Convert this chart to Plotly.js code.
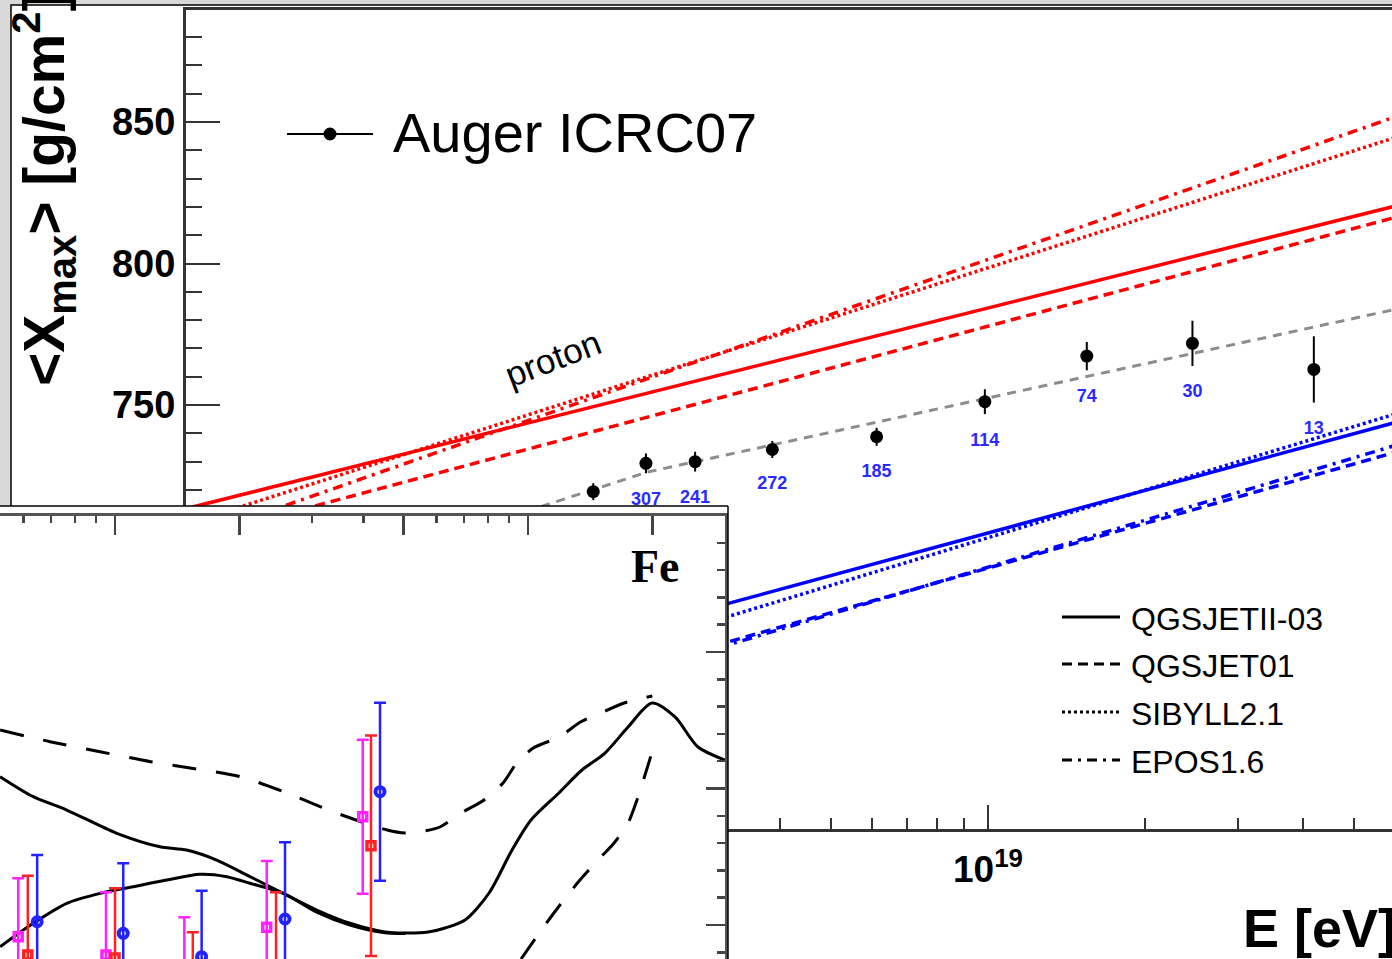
<!DOCTYPE html>
<html><head><meta charset="utf-8">
<script src="https://cdn.plot.ly/plotly-3.0.1.min.js"></script>
<style>html,body{margin:0;padding:0;background:#d9d9d9;overflow:hidden}#chart{width:1392px;height:959px}</style>
</head><body><div id="chart"></div>
<script>
// ---------- main chart: <Xmax> vs E ----------
const augerE      = [1.759e18, 2.218e18, 2.754e18, 3.869e18, 6.124e18, 9.863e18, 1.545e19, 2.460e19, 4.198e19];
const augerXmax   = [719.4, 729.4, 730.0, 734.3, 738.8, 751.2, 767.3, 771.8, 762.6];
const augerErr    = [3.0, 3.5, 3.5, 3.0, 3.2, 4.4, 5.0, 8.0, 11.7];
const augerEvents = ["", "307", "241", "272", "185", "114", "74", "30", "13"];

const fitE    = [1e18, 2.23e18, 6e19];
const fitXmax = [705.4, 726.3, 783.8];

const modelE = [3e17, 6e19];
const modelNames = ["QGSJETII-03", "QGSJET01", "SIBYLL2.1", "EPOS1.6"];
const protonXmax = {
  "QGSJETII-03": [713.9, 820.3],
  "QGSJET01":    [702.7, 816.3],
  "SIBYLL2.1":   [708.5, 844.5],
  "EPOS1.6":     [702.9, 851.8]
};
const ironXmax = {
  "QGSJETII-03": [628.5, 743.8],
  "QGSJET01":    [612.4, 733.3],
  "SIBYLL2.1":   [617.7, 746.8],
  "EPOS1.6":     [608.6, 735.7]
};
const xMajorTicks = [1e18, 1e19];
const xMajorText  = ["10<sup>18</sup>", "10<sup>19</sup>"];
const xMinorTicks = [4e17,5e17,6e17,7e17,8e17,9e17,2e18,3e18,4e18,5e18,6e18,7e18,8e18,9e18,2e19,3e19,4e19,5e19];
const yMajorTicks = [650, 700, 750, 800, 850];

// ---------- inset (Fe) ----------
const insetDashA_x = [0.527,0.696,0.920,1.22,1.52,2.01,2.61,3.37,4.56,5.04,5.48,6.12,6.88,7.83,8.70,9.40,10.3,11.9,13.4,15.0,17.1,20.0];
const insetDashA_y = [48.57,46.86,45.39,43.93,43.00,41.73,39.34,36.60,33.92,33.48,33.67,34.36,36.41,38.32,40.81,43.74,45.93,47.55,49.74,51.06,52.53,53.56];
const insetDashB_x = [9.62,10.69,11.95,13.36,14.94,16.16,17.47,18.36,19.20,19.97];
const insetDashB_y = [15.02,18.97,22.93,26.59,29.82,32.01,34.95,38.32,41.98,45.35];
const insetSolidC_x = [0.527,0.634,0.764,1.01,1.285,1.491,1.763,2.123,2.556,3.079,3.707,4.463,5.04,5.73,6.30,7.04,8.05,9.15,10.17,11.88,13.51,15.36,17.47,19.97,22.70,25.80,29.99];
const insetSolidC_y = [41.73,38.80,36.85,33.44,31.47,30.99,29.52,27.08,24.64,22.20,20.25,19.02,18.83,18.97,19.56,20.73,24.69,30.99,35.38,39.34,42.71,45.20,49.01,52.53,50.48,46.08,44.18];
const insetSolidD_x = [0.527,0.634,0.764,0.920,1.107,1.334,1.606,1.864,2.123,2.556,3.079,3.707,4.463,5.04];
const insetSolidD_y = [16.82,20.25,23.18,24.64,25.61,26.59,27.43,27.08,26.11,24.64,21.90,20.00,18.90,18.75];

const magE = [0.583, 0.951, 1.472, 2.330, 3.979];
const magV = [18.29, 15.60, 12.67, 19.66, 35.87];
const magErr = [8.56, 9.19, 8.45, 9.71, 11.28];
const redE = [0.615, 1.000, 1.543, 2.454, 4.167];
const redV = [15.60, 15.16, 10.48, 14.14, 31.62];
const redErr = [11.62, 10.21, 8.45, 10.65, 16.16];
const bluE = [0.648, 1.047, 1.621, 2.580, 4.382];
const bluV = [20.48, 18.78, 15.36, 20.88, 39.53];
const bluErr = [9.77, 10.26, 9.67, 11.24, 13.04];

// ---------- styling ----------
const W = 1392, H = 959;
const PX = x => x / W;
const PY = y => 1 - y / H;
const FONT = "Liberation Sans, Arial, Helvetica, sans-serif";
const dashes = {"QGSJETII-03": "solid", "QGSJET01": "10px,6px", "SIBYLL2.1": "3px,3px", "EPOS1.6": "10px,6px,3px,6px"};

const traces = [];
modelNames.forEach(n => {
  traces.push({type:'scatter', mode:'lines', x:modelE, y:protonXmax[n], xaxis:'x', yaxis:'y',
    line:{color:'#ff0000', width:3.5, dash:dashes[n]}, hoverinfo:'skip'});
});
modelNames.forEach(n => {
  traces.push({type:'scatter', mode:'lines', x:modelE, y:ironXmax[n], xaxis:'x', yaxis:'y',
    line:{color:'#0000ff', width:3.5, dash:dashes[n]}, hoverinfo:'skip'});
});
traces.push({type:'scatter', mode:'lines', x:fitE, y:fitXmax, xaxis:'x', yaxis:'y',
  line:{color:'#8c8c8c', width:3, dash:'9px,7px'}, hoverinfo:'skip'});
traces.push({type:'scatter', mode:'markers', x:augerE, y:augerXmax, xaxis:'x', yaxis:'y',
  marker:{color:'#000', size:13},
  error_y:{type:'data', array:augerErr, color:'#000', thickness:2, width:0}, hoverinfo:'skip'});
traces.push({type:'scatter', mode:'text', x:augerE, y:augerXmax.map((v,i)=>v-augerErr[i]-9.5),
  text:augerEvents, textposition:'middle center', xaxis:'x', yaxis:'y',
  textfont:{family:FONT, size:18, color:'#2a2aff', weight:'bold'}, hoverinfo:'skip'});

// cover subplot (white inset panel)
traces.push({type:'scatter', x:[], y:[], xaxis:'x2', yaxis:'y2', hoverinfo:'skip'});

// inset traces
const insetSpline = {shape:'spline', smoothing:0.8};
traces.push({type:'scatter', mode:'lines', x:insetDashA_x, y:insetDashA_y, xaxis:'x3', yaxis:'y3',
  line:Object.assign({color:'#000', width:3, dash:'24px,20px'}, insetSpline), hoverinfo:'skip'});
traces.push({type:'scatter', mode:'lines', x:insetDashB_x, y:insetDashB_y, xaxis:'x3', yaxis:'y3',
  line:Object.assign({color:'#000', width:3, dash:'24px,20px'}, insetSpline), hoverinfo:'skip'});
traces.push({type:'scatter', mode:'lines', x:insetSolidC_x, y:insetSolidC_y, xaxis:'x3', yaxis:'y3',
  line:Object.assign({color:'#000', width:3}, insetSpline), hoverinfo:'skip'});
traces.push({type:'scatter', mode:'lines', x:insetSolidD_x, y:insetSolidD_y, xaxis:'x3', yaxis:'y3',
  line:Object.assign({color:'#000', width:3}, insetSpline), hoverinfo:'skip'});
[[magE,magV,magErr,'#ff22ff','square-open'],[redE,redV,redErr,'#ff2222','square-open'],[bluE,bluV,bluErr,'#2222ff','circle-open']].forEach(s=>{
  const isC = s[4]==='circle-open';
  traces.push({type:'scatter', mode:'markers', x:s[0], y:s[1], xaxis:'x3', yaxis:'y3',
    marker:{symbol:s[4], color:s[3], size:isC?9:8, line:{color:s[3], width:isC?4:3.5}},
    error_y:{type:'data', array:s[2], color:s[3], thickness:2.5, width:6}, hoverinfo:'skip'});
});

const shapes = [
  // outer white panel
  {type:'rect', xref:'paper', yref:'paper', x0:PX(11), x1:1.02, y0:-0.02, y1:PY(5), fillcolor:'#fff', line:{color:'#000', width:1.5}, layer:'below'},
  // inset outer border
  {type:'line', xref:'paper', yref:'paper', x0:0, x1:PX(728), y0:PY(506), y1:PY(506), line:{color:'#000', width:1.5}, layer:'above'},
  {type:'line', xref:'paper', yref:'paper', x0:PX(728), x1:PX(728), y0:PY(506), y1:-0.02, line:{color:'#000', width:1.5}, layer:'above'},
  // Auger legend symbol
  {type:'line', xref:'paper', yref:'paper', x0:PX(287), x1:PX(373), y0:PY(134), y1:PY(134), line:{color:'#000', width:2}, layer:'above'},
  {type:'circle', xref:'paper', yref:'paper', x0:PX(323.5), x1:PX(336.5), y0:PY(140.5), y1:PY(127.5), fillcolor:'#000', line:{color:'#000', width:0}, layer:'above'}
];
const legY = [617, 664, 712, 760];
modelNames.forEach((n,i)=>{
  shapes.push({type:'line', xref:'paper', yref:'paper', x0:PX(1062), x1:PX(1120), y0:PY(legY[i]), y1:PY(legY[i]),
    line:{color:'#000', width:3, dash:dashes[n]}, layer:'above'});
});

const annotations = [
  {text:'&lt;X<sub>max</sub>&gt; [g/cm<sup>2</sup>]', xref:'paper', yref:'paper', x:PX(44), y:PY(190), textangle:-90,
   showarrow:false, font:{family:FONT, size:57, color:'#000', weight:'bold'}, xanchor:'center', yanchor:'middle'},
  {text:'E [eV]', xref:'paper', yref:'paper', x:PX(1241), y:PY(928), showarrow:false, xanchor:'left', yanchor:'middle',
   font:{family:FONT, size:54, color:'#000', weight:'bold'}},
  {text:'Auger ICRC07', xref:'paper', yref:'paper', x:PX(391), y:PY(133), showarrow:false, xanchor:'left', yanchor:'middle',
   font:{family:FONT, size:56, color:'#000'}},
  {text:'proton', xref:'paper', yref:'paper', x:PX(552), y:PY(358), showarrow:false, textangle:-21,
   font:{family:FONT, size:35, color:'#000'}},
  {text:'Fe', xref:'paper', yref:'paper', x:PX(655), y:PY(566), showarrow:false,
   font:{family:'Liberation Serif, Times New Roman, serif', size:46, color:'#000', weight:'bold'}}
];
modelNames.forEach((n,i)=>{
  annotations.push({text:n, xref:'paper', yref:'paper', x:PX(1129), y:PY(legY[i]+2), showarrow:false, xanchor:'left', yanchor:'middle',
    font:{family:FONT, size:32, color:'#000'}});
});

const layout = {
  width:W, height:H, margin:{l:0, r:0, t:0, b:0, pad:0},
  paper_bgcolor:'#d9d9d9', plot_bgcolor:'#ffffff', showlegend:false,
  font:{family:FONT, color:'#000'},
  xaxis:{type:'log', domain:[PX(186), 1], range:[17.4665, 19.7725], anchor:'y',
    showline:true, linecolor:'#333', linewidth:3, mirror:true, showgrid:false, zeroline:false,
    ticks:'inside', ticklen:24, tickwidth:2, tickcolor:'#333',
    tickmode:'array', tickvals:xMajorTicks, ticktext:xMajorText, ticklabelstandoff:6,
    tickfont:{family:FONT, size:37, color:'#000', weight:'bold'},
    minor:{tickmode:'array', tickvals:xMinorTicks, ticks:'inside', ticklen:11, tickwidth:2, tickcolor:'#333', showgrid:false}},
  yaxis:{domain:[PY(829), PY(10)], range:[600.2, 889.6], anchor:'x',
    showline:true, linecolor:'#333', linewidth:3, mirror:false, showgrid:false, zeroline:false,
    ticks:'inside', ticklen:34, tickwidth:2, tickcolor:'#333',
    tickmode:'array', tickvals:yMajorTicks, ticklabelstandoff:0,
    tickfont:{family:FONT, size:38, color:'#000', weight:'bold'},
    minor:{tickmode:'linear', tick0:0, dtick:10, ticks:'inside', ticklen:16, tickwidth:2, tickcolor:'#333', showgrid:false}},
  xaxis2:{domain:[0, PX(728)], range:[0,1], anchor:'y2', visible:false},
  yaxis2:{domain:[0, PY(506)], range:[0,1], anchor:'x2', visible:false},
  xaxis3:{type:'log', domain:[0, PX(725)], range:[-0.27845, 1.47700], anchor:'y3', side:'top',
    showline:true, linecolor:'#555', linewidth:3, showgrid:false, zeroline:false,
    ticks:'inside', ticklen:19, tickwidth:2.5, tickcolor:'#444', tickmode:'array', tickvals:[1,2,5,10,20], showticklabels:false,
    minor:{tickmode:'array', tickvals:[0.6,0.7,0.8,0.9,3,4,6,7,8,9,30], ticks:'inside', ticklen:7, tickwidth:2.5, tickcolor:'#444', showgrid:false}},
  yaxis3:{domain:[0, PY(515.5)], range:[15.02, 80], anchor:'x3', side:'right',
    showline:true, linecolor:'#555', linewidth:3, showgrid:false, zeroline:false,
    ticks:'inside', ticklen:19, tickwidth:2.5, tickcolor:'#444', tickmode:'array', tickvals:[20,40,60,80], showticklabels:false,
    minor:{tickmode:'linear', tick0:0, dtick:4, ticks:'inside', ticklen:8, tickwidth:2.5, tickcolor:'#444', showgrid:false}},
  shapes:shapes, annotations:annotations
};

Plotly.newPlot('chart', traces, layout, {staticPlot:true, displayModeBar:false});
</script>
</body></html>
